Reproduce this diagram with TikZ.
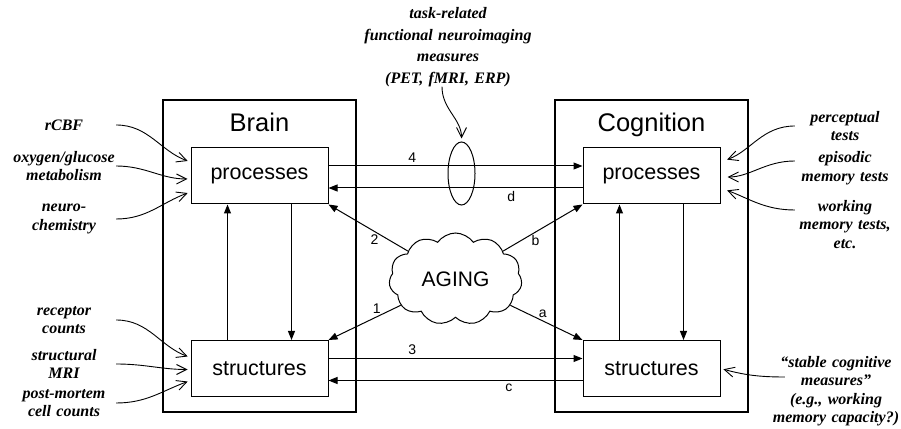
\documentclass[tikz,border=0pt]{standalone}
\usepackage{fontspec}
\setmainfont{Liberation Serif}
\setsansfont{Liberation Sans}
\usetikzlibrary{arrows.meta}
\usetikzlibrary{shapes.geometric}
\usetikzlibrary{shapes.symbols}
\begin{document}
\begin{tikzpicture}[x=1pt,y=1pt,
        frame/.style={draw,line width=1.1pt},
        part/.style={draw,line width=1pt,minimum width=137pt,minimum height=56pt,inner sep=0pt,
            font=\sffamily\fontsize{21.5}{26}\selectfont},
        title/.style={anchor=base,inner sep=0pt,font=\sffamily\fontsize{25.5}{30}\selectfont},
        link/.style={line width=1pt,-{Triangle[length=9pt,width=7pt]}},
        tag/.style={inner sep=3pt,font=\sffamily\fontsize{14}{16}\selectfont},
        note/.style={align=center,inner sep=0pt,text width=#1,
            font=\bfseries\itshape\fontsize{16}{18.5}\selectfont},
        note/.default=104pt,
        hint/.style={line width=0.9pt,-{Straight Barb[length=10pt,width=10pt]},shorten >=3pt}]
        \useasboundingbox (0,0) rectangle (901,428);

        \draw[frame] (163,16) rectangle (356,328);
        \draw[frame] (555,16) rectangle (748,328);
        \node[title] (brain) at (259.5,296) {Brain};
        \node[title] (cog) at (651.5,296) {Cognition};

        \node[part] (lproc) at (259.5,252) {processes};
        \node[part] (lstr) at (259.5,59.5) {structures};
        \node[part] (rproc) at (651.5,252) {processes};
        \node[part] (rstr) at (651.5,59.5) {structures};

        \foreach \p/\q in {lproc/lstr,rproc/rstr} {
            \draw[link] ([xshift=-32pt]\q.north) -- ([xshift=-32pt]\p.south);
            \draw[link] ([xshift=32pt]\p.south) -- ([xshift=32pt]\q.north);
        }

        \draw[link] ([yshift=10pt]lproc.east) -- node[tag,pos=0.33,above] {4} ([yshift=10pt]rproc.west);
        \draw[link] ([yshift=-12pt]rproc.west) -- node[tag,pos=0.28,below] {d} ([yshift=-12pt]lproc.east);
        \draw[link] ([yshift=10pt]lstr.east) -- node[tag,pos=0.33,above] {3} ([yshift=10pt]rstr.west);
        \draw[link] ([yshift=-12pt]rstr.west) -- node[tag,pos=0.29,below] {c} ([yshift=-12pt]lstr.east);

        \node[cloud,draw,line width=1pt,cloud puffs=11,cloud puff arc=110,aspect=1.45,
            minimum width=133pt,minimum height=92pt,inner sep=0pt,
            font=\sffamily\fontsize{21}{25}\selectfont] (aging) at (455.5,149) {AGING};

        \draw[link] (aging) -- node[tag,pos=0.42,below] {2} (lproc.south east);
        \draw[link] (aging) -- node[tag,pos=0.33,above] {1} (lstr.north east);
        \draw[link] (aging) -- node[tag,pos=0.41,below] {b} (rproc.south west);
        \draw[link] (aging) -- node[tag,pos=0.45,above] {a} (rstr.north west);

        \node[ellipse,draw,line width=1pt,minimum width=27pt,minimum height=63pt,inner sep=0pt] (fmri) at (461.5,254.5) {};
        \node[note=180pt,font=\bfseries\itshape\fontsize{16}{21.5}\selectfont] (fmrinote) at (448,381)
            {task-related\\functional neuroimaging\\measures\\(PET, fMRI, ERP)};
        \draw[hint] ([xshift=-6pt]fmrinote.south) to[out=-90,in=90] (fmri.north);

        \node[note] (rcbf) at (64,303) {rCBF};
        \node[note] (oxy) at (64,262) {oxygen/glucose\\metabolism};
        \node[note] (neuro) at (64,209) {neuro-\\chemistry};
        \node[note] (recep) at (64,108) {receptor\\counts};
        \node[note] (smri) at (64,64) {structural\\MRI};
        \node[note] (pm) at (64,25) {post-mortem\\cell counts};

        \draw[hint] (rcbf.east) to[out=0,in=160] ([yshift=14pt]lproc.west);
        \draw[hint] (oxy.east) to[out=0,in=180] ([yshift=-3pt]lproc.west);
        \draw[hint] (neuro.east) to[out=0,in=200] ([yshift=-16pt]lproc.west);
        \draw[hint] (recep.east) to[out=0,in=160] ([yshift=11pt]lstr.west);
        \draw[hint] (smri.east) to[out=0,in=180] ([yshift=-1pt]lstr.west);
        \draw[hint] (pm.east) to[out=0,in=200] ([yshift=-12pt]lstr.west);

        \node[note=100pt] (perc) at (845,302) {perceptual\\tests};
        \node[note=100pt] (epis) at (845,260) {episodic\\memory tests};
        \node[note=100pt] (wm) at (845,203.5) {working\\memory tests,\\etc.};
        \node[note=132pt] (stable) at (836,37) {“stable cognitive\\measures”\\(e.g., working\\memory capacity?)};

        \draw[hint,shorten >=7pt] (perc.west) to[out=180,in=20] ([yshift=14pt]rproc.east);
        \draw[hint,shorten >=7pt] ([yshift=7pt]epis.west) to[out=180,in=0] ([yshift=-1pt]rproc.east);
        \draw[hint,shorten >=7pt] ([yshift=14.5pt]wm.west) to[out=180,in=-20] ([yshift=-12pt]rproc.east);
        \draw[hint] ([xshift=15pt,yshift=14pt]stable.west) to[out=180,in=-15] (rstr.east);
    \end{tikzpicture}
\end{document}
